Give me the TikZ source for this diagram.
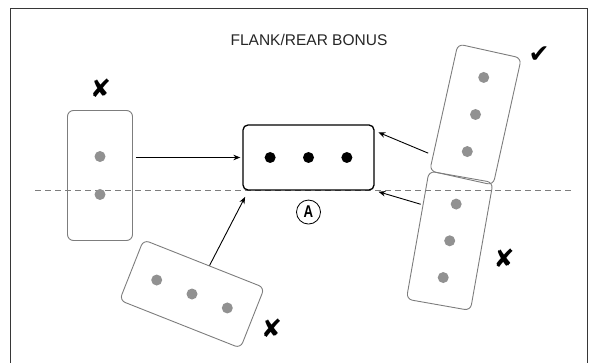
\documentclass[tikz,border=0pt]{standalone}
\usepackage{fontspec}
\usepackage{graphicx}
\setmainfont{Liberation Sans}
\newfontfamily\symfont{DejaVu Sans}
\usetikzlibrary{arrows.meta,calc,positioning}
\definecolor{unitgray}{RGB}{125,125,125}
\definecolor{dotgray}{RGB}{145,145,145}
\definecolor{framegray}{RGB}{55,55,55}

\begin{document}
\begin{tikzpicture}[x=1pt, y=-1pt,
    unit/.style={draw=unitgray, line width=0.9pt, rounded corners=6pt, minimum width=65pt, minimum height=130pt, inner sep=0pt},
    target/.style={draw=black, line width=1.3pt, rounded corners=5pt, minimum width=131pt, minimum height=65pt, inner sep=0pt},
    gdot/.style={circle, fill=dotgray, minimum size=11pt, inner sep=0pt},
    bdot/.style={circle, fill=black, minimum size=11pt, inner sep=0pt},
    arr/.style={-{Stealth[length=7pt, width=5.5pt]}, line width=0.9pt},
    verdict/.style={font=\symfont\fontsize{25}{25}\selectfont, inner sep=0pt}]
  \useasboundingbox (0,0) rectangle (601,363);
  % --- frame (open at the bottom) ---
  \draw[framegray, line width=1pt] (10,363) -- (10,9) -- (587,9) -- (587,363);
  \node[anchor=base, font=\fontsize{15.5}{16}\selectfont, text=black!85] (title) at (309,45.7) {FLANK/REAR BONUS};
  % --- dashed reference line through the rear edge ---
  \def\lineY{190}
  \draw[unitgray, line width=0.9pt, dash pattern=on 6pt off 4pt] (35,\lineY) -- (572,\lineY);
  % target unit A
  \node[target] (a) at (308.5,157.5) {};
  \foreach \s [count=\i] in {west,center,east}
    \node[bdot] (a\i) at ($(a.center)!0.58!(a.\s)$) {};
  \node[circle, draw, line width=0.8pt, minimum size=24pt, inner sep=0pt, font=\bfseries\fontsize{17}{17}\selectfont, below=9pt of a] (tag) {\scalebox{0.78}[1]{A}};
  % left unit (side on, no bonus)
  \node[unit] (lb) at (100,175.5) {};
  \node[gdot] (lb1) at ($(lb.center)!0.29!(lb.north)$) {};
  \node[gdot] (lb2) at ($(lb.center)!0.29!(lb.south)$) {};
  % lower left unit
  \node[unit, minimum width=130pt, minimum height=65pt, rotate=-21.6] (ll) at (192,294) {};
  \foreach \s [count=\i] in {west,center,east}
    \node[gdot] (ll\i) at ($(ll.center)!0.58!(ll.\s)$) {};
  % right units
  \node[unit, rotate=-12.5] (ru) at (475.5,114.5) {};
  \foreach \s [count=\i] in {north,center,south}
    \node[gdot] (ru\i) at ($(ru.center)!0.58!(ru.\s)$) {};
  \node[unit, rotate=-10] (rl) at (449.7,240.8) {};
  \foreach \s [count=\i] in {north,center,south}
    \node[gdot] (rl\i) at ($(rl.center)!0.57!(rl.\s)$) {};
  % charges
  \draw[arr, shorten <=3pt, shorten >=2pt] (lb.east |- a.west) -- (a.west);
  \draw[arr, shorten >=7pt] (ll.80) -- ([xshift=6pt]a.south west);
  \draw[arr, shorten <=5pt, shorten >=4pt] (ru.236) -- (a.22);
  \draw[arr, shorten <=2pt, shorten >=4pt] (rl.137) -- (a.south east);
  % verdicts
  \node[verdict] (v1) at (100.7,88) {✘};
  \node[verdict] (v2) at (271.7,328) {✘};
  \node[verdict] (v3) at (504,258) {✘};
  \node[verdict] (v4) at (539,55) {✔};
\end{tikzpicture}
\end{document}
